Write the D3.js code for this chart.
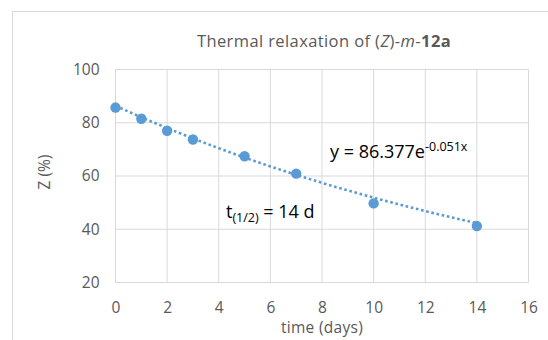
<!DOCTYPE html>
<html>
<head>
<meta charset="utf-8">
<script src="https://cdn.jsdelivr.net/npm/d3@7"></script>
<style>
  html, body { margin: 0; padding: 0; background: #fff; }
  svg { display: block; }
  text { font-family: "Open Sans", "Noto Sans", sans-serif; }
</style>
</head>
<body>
<svg id="chart" width="548" height="340"></svg>
<script>
// ---- data ----
const days = [0, 1, 2, 3, 5, 7, 10, 14];
const zPercent = [85.7, 81.5, 77.0, 73.7, 67.4, 60.9, 49.7, 41.2];
const xTicks = [0, 2, 4, 6, 8, 10, 12, 14, 16];
const yTicks = [20, 40, 60, 80, 100];
const fitA = 86.377;   // trendline y = A e^(k x)
const fitK = -0.051;
const titleParts = [
  {t: "Thermal relaxation of (", s: "normal", w: "normal"},
  {t: "Z", s: "italic", w: "normal"},
  {t: ")-", s: "normal", w: "normal"},
  {t: "m", s: "italic", w: "normal"},
  {t: "-", s: "normal", w: "normal"},
  {t: "12a", s: "normal", w: "bold"}
];

const svg = d3.select("#chart");
const grey = "#595959";
const grid = "#d9d9d9";

// outer chart frame (cropped on right/bottom)
svg.append("rect").attr("x", 12.5).attr("y", 11.5)
  .attr("width", 700).attr("height", 500)
  .attr("fill", "none").attr("stroke", grid).attr("stroke-width", 1);

const x = d3.scaleLinear().domain([0, 16]).range([115.5, 528.5]);
const y = d3.scaleLinear().domain([20, 100]).range([282.5, 69.5]);

// gridlines
svg.append("g").selectAll("line.v").data(xTicks).join("line")
  .attr("x1", d => x(d)).attr("x2", d => x(d))
  .attr("y1", y(100)).attr("y2", y(20))
  .attr("stroke", grid).attr("stroke-width", 1);
svg.append("g").selectAll("line.h").data(yTicks).join("line")
  .attr("x1", x(0)).attr("x2", x(16))
  .attr("y1", d => y(d)).attr("y2", d => y(d))
  .attr("stroke", grid).attr("stroke-width", 1);

// axes (labels only, via d3 axes)
const xAxis = svg.append("g").attr("transform", `translate(0,${y(20)})`)
  .call(d3.axisBottom(x).tickValues(xTicks).tickSize(0).tickPadding(19));
xAxis.select(".domain").remove();
xAxis.selectAll("text").attr("fill", grey).style("font-size", "15.5px")
  .style("font-family", '"Open Sans", sans-serif');

const yAxis = svg.append("g").attr("transform", `translate(${x(0)},0)`)
  .call(d3.axisLeft(y).tickValues(yTicks).tickSize(0).tickPadding(16));
yAxis.select(".domain").remove();
yAxis.selectAll("text").attr("fill", grey).style("font-size", "15.5px")
  .style("font-family", '"Open Sans", sans-serif');

// axis titles
svg.append("text").attr("x", x(8)).attr("y", 333)
  .attr("text-anchor", "middle").attr("fill", grey)
  .style("font-size", "15.5px").style("letter-spacing", "0.3px").text("time (days)");
svg.append("text").attr("transform", "translate(50,172) rotate(-90)")
  .attr("text-anchor", "middle").attr("fill", grey)
  .style("font-size", "15.5px").text("Z (%)");

// title
const title = svg.append("text").attr("x", 324).attr("y", 47)
  .attr("text-anchor", "middle").attr("fill", grey)
  .style("font-size", "16.5px").style("letter-spacing", "0.4px");
title.selectAll("tspan").data(titleParts).join("tspan")
  .attr("font-style", d => d.s).attr("font-weight", d => d.w).text(d => d.t);

// trendline
const fitX = d3.range(0, 14.001, 0.25);
const line = d3.line().x(d => x(d)).y(d => y(fitA * Math.exp(fitK * d)));
svg.append("path").datum(fitX).attr("d", line)
  .attr("fill", "none").attr("stroke", "#5b9bd5")
  .attr("stroke-width", 2.6).attr("stroke-dasharray", "2.6,2.7");

// points
svg.append("g").selectAll("circle").data(days).join("circle")
  .attr("cx", d => x(d)).attr("cy", (d, i) => y(zPercent[i]))
  .attr("r", 5.2).attr("fill", "#5b9bd5");

// equation annotation
const eq = svg.append("text").attr("x", 330).attr("y", 158)
  .attr("fill", "#000").style("font-size", "18px");
eq.append("tspan").text("y = 86.377e");
eq.append("tspan").attr("dy", -7).style("font-size", "12.5px").text("-0.051x");

// half-life annotation
const th = svg.append("text").attr("x", 226).attr("y", 218)
  .attr("fill", "#000").style("font-size", "18px");
th.append("tspan").text("t");
th.append("tspan").attr("dy", 4).style("font-size", "12.5px").text("(1/2)");
th.append("tspan").attr("dy", -4).text(" = 14 d");
</script>
</body>
</html>
